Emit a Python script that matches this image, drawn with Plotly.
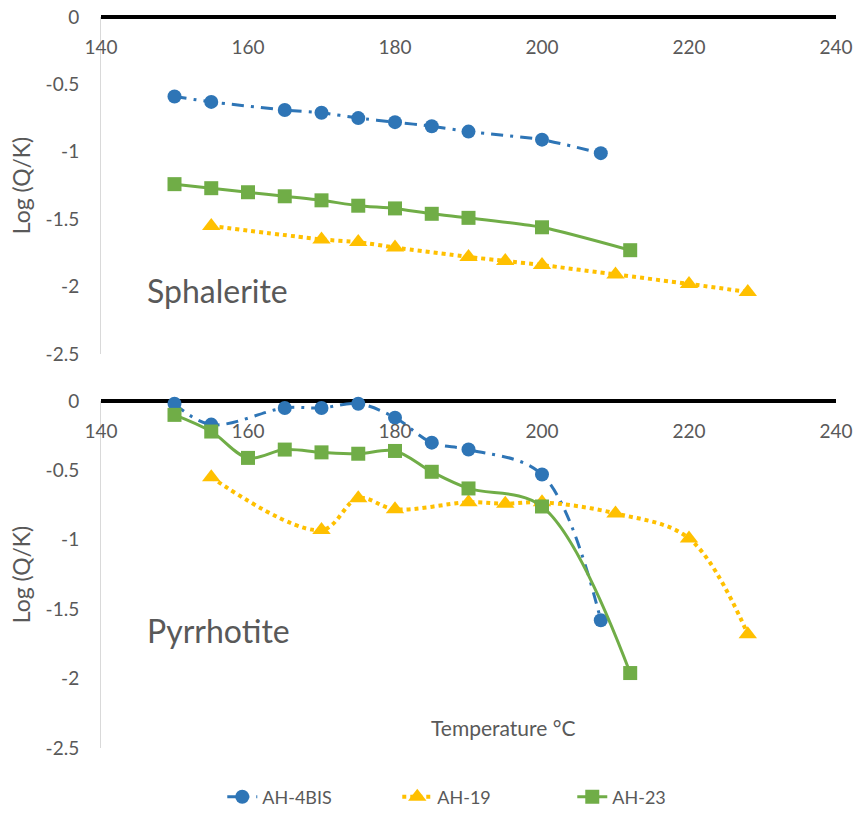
import plotly.graph_objects as go

# ---- data ----
x_4bis = [150, 155, 165, 170, 175, 180, 185, 190, 200, 208]
x_19 = [155, 170, 175, 180, 190, 195, 200, 210, 220, 228]
x_23 = [150, 155, 160, 165, 170, 175, 180, 185, 190, 200, 212]

sph_4bis = [-0.59, -0.63, -0.69, -0.71, -0.75, -0.78, -0.81, -0.85, -0.91, -1.01]
sph_19 = [-1.55, -1.65, -1.67, -1.71, -1.78, -1.81, -1.84, -1.91, -1.98, -2.04]
sph_23 = [-1.24, -1.27, -1.30, -1.33, -1.36, -1.40, -1.42, -1.46, -1.49, -1.56, -1.73]

pyr_4bis = [-0.02, -0.17, -0.05, -0.05, -0.02, -0.12, -0.30, -0.35, -0.53, -1.58]
pyr_19 = [-0.55, -0.93, -0.70, -0.78, -0.73, -0.74, -0.73, -0.81, -0.99, -1.68]
pyr_23 = [-0.10, -0.22, -0.41, -0.35, -0.37, -0.38, -0.36, -0.51, -0.63, -0.76, -1.96]

y_ticks = [0, -0.5, -1, -1.5, -2, -2.5]
y_ticktext = ["0", "-0.5", "-1", "-1.5", "-2", "-2.5"]
x_ticks = [140, 160, 180, 200, 220, 240]

BLUE = "#2E75B6"
YELLOW = "#FFC000"
GREEN = "#70AD47"
GRAY = "#595959"
FONT = "Lato"

series = [
    ("AH-4BIS", x_4bis, sph_4bis, pyr_4bis, BLUE, "circle", 14, dict(dash="12px,7px,3px,7px", width=3)),
    ("AH-19", x_19, sph_19, pyr_19, YELLOW, "triangle-up", 16, dict(dash="dot", width=4)),
    ("AH-23", x_23, sph_23, pyr_23, GREEN, "square", 14, dict(dash="solid", width=3)),
]

fig = go.Figure()
for name, xs, ys_top, ys_bot, col, sym, sz, ln in series:
    fig.add_trace(go.Scatter(
        x=xs, y=ys_top, name=name, mode="lines+markers", xaxis="x", yaxis="y",
        line=dict(color=col, shape="spline", smoothing=0.6, **ln),
        marker=dict(color=col, symbol=sym, size=sz), cliponaxis=False,
        legendgroup=name, showlegend=True))
    fig.add_trace(go.Scatter(
        x=xs, y=ys_bot, name=name, mode="lines+markers", xaxis="x2", yaxis="y2",
        line=dict(color=col, shape="spline", smoothing=1.0, **ln),
        marker=dict(color=col, symbol=sym, size=sz), cliponaxis=False,
        legendgroup=name, showlegend=False))

xcommon = dict(range=[140, 240], tickvals=x_ticks, showgrid=False, zeroline=False,
               showline=False, ticks="", tickfont=dict(family=FONT, size=19, color=GRAY),
               anchor="free")
ycommon = dict(range=[-2.5, 0], tickvals=y_ticks, ticktext=y_ticktext, showgrid=False,
               zeroline=True, zerolinecolor="black", zerolinewidth=4,
               showline=True, linecolor="#D9D9D9", linewidth=1, ticks="",
               tickfont=dict(family=FONT, size=19, color=GRAY), ticklabelstandoff=17,
               title=dict(text="Log (Q/K)", font=dict(family=FONT, size=23, color=GRAY), standoff=8))

fig.update_layout(
    width=860, height=816,
    margin=dict(l=101, r=24, t=17, b=68, autoexpand=False),
    paper_bgcolor="white", plot_bgcolor="white",
    xaxis=dict(domain=[0, 1], position=0.977, **xcommon),
    xaxis2=dict(domain=[0, 1], position=0.452, **xcommon),
    yaxis=dict(domain=[0.539, 1.0], anchor="x", **ycommon),
    yaxis2=dict(domain=[0.0, 0.4747], anchor="x2", **ycommon),
    legend=dict(orientation="h", x=0.165, xanchor="left", y=-0.067, yanchor="middle",
                font=dict(family=FONT, size=18, color=GRAY),
                entrywidth=130, entrywidthmode="pixels",
                traceorder="normal"),
    showlegend=True,
    annotations=[
        dict(text="Sphalerite", x=146, y=-2.03, xref="x", yref="y", xanchor="left",
             showarrow=False, font=dict(family=FONT, size=32, color=GRAY)),
        dict(text="Pyrrhotite", x=146, y=-1.65, xref="x2", yref="y2", xanchor="left",
             showarrow=False, font=dict(family=FONT, size=32, color=GRAY)),
        dict(text="Temperature °C", x=194.7, y=-2.35, xref="x2", yref="y2",
             showarrow=False, font=dict(family=FONT, size=21, color=GRAY)),
    ],
)

fig.write_html("out.html")
